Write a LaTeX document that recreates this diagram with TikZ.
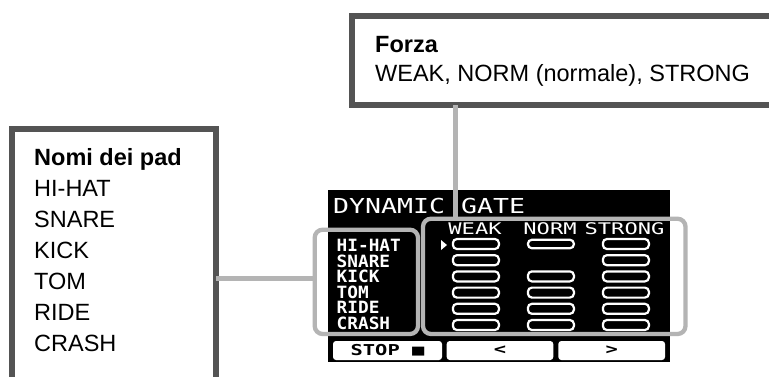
\documentclass[tikz,border=0pt]{standalone}
\usepackage{fontspec}
\setmainfont{Liberation Sans}
\newfontfamily\lcdfont{DejaVu Sans Mono}
\newcommand\lcdt[3]{\scalebox{#2}[1]{\fontsize{#1}{#1}\selectfont\lcdfont\bfseries #3}}
\newcommand\lcdr[3]{\scalebox{#2}[1]{\fontsize{#1}{#1}\selectfont\lcdfont #3}}
\definecolor{boxgray}{HTML}{545454}
\definecolor{linkgray}{HTML}{B4B4B4}
\begin{document}
\begin{tikzpicture}[x=1pt,y=-1pt,
  callout/.style={draw=boxgray, line width=6pt, fill=white, inner sep=0pt, outer sep=0pt, anchor=north west},
  calltext/.style={font=\fontsize{23.5}{28}\selectfont, inner sep=0pt, anchor=base west},
  selbox/.style={draw=linkgray, line width=4.3pt, rounded corners=8pt, inner sep=0pt, outer sep=0pt},
  conn/.style={draw=linkgray, line width=4.5pt},
  bar/.style={draw=white, line width=2.2pt, rounded corners=4pt, minimum width=46pt, minimum height=10pt, inner sep=0pt},
  lcdlabel/.style={text=white, inner sep=0pt},
  btn/.style={fill=white, rounded corners=3pt, inner sep=0pt, minimum height=19pt, text=black}]
\useasboundingbox (0,0) rectangle (769,376);
\clip (0,0) rectangle (769,376);
\fill[white] (0,0) rectangle (769,376);
% LCD screen
\node[fill=black, minimum width=342pt, minimum height=172pt, inner sep=0pt, outer sep=0pt, anchor=north west] (lcd) at (328,190) {};
\node[lcdlabel, anchor=base west] (title) at (333,213) {\lcdr{20.6}{1.29}{DYNAMIC GATE}};
\node[lcdlabel] (hweak) at (475,229) {\lcdr{16}{1.38}{WEAK}};
\node[lcdlabel] (hnorm) at (550,229) {\lcdr{16}{1.38}{NORM}};
\node[lcdlabel] (hstrong) at (624.5,229) {\lcdr{16}{1.38}{STRONG}};
\foreach \t [count=\i] in {HI-HAT,SNARE,KICK,TOM,RIDE,CRASH}
  \node[lcdlabel, anchor=base west] (ln\i) at (336.5,{251.7+15.5*(\i-1)}) {\lcdt{16.9}{1.05}{\t}};
\foreach \r in {1,...,6} {
  \node[bar] (w\r) at (475.9,{244+16.2*(\r-1)}) {};
  \node[bar] (s\r) at (625.9,{244+16.2*(\r-1)}) {};
}
\foreach \r in {3,...,6}
  \node[bar] (n\r) at (550.9,{244+16.2*(\r-1)}) {};
\node[bar, minimum height=8.5pt] (n1) at (550.9,244) {};
\fill[white] (441,240) -- (447,245) -- (441,250) -- cycle;
\node[btn, minimum width=109pt] (b1) at (387.5,350.5) {\lcdt{15}{1.36}{STOP ■}};
\node[btn, minimum width=106.6pt] (b2) at (500,350.5) {\lcdt{15}{1.36}{<}};
\node[btn, minimum width=106.7pt] (b3) at (611.7,350.5) {\lcdt{15}{1.36}{>}};
% selection frames
\node[selbox, minimum width=103.3pt, minimum height=104.3pt] (padsel) at (366.35,281.85) {};
\node[selbox, minimum width=262.5pt, minimum height=115.3pt] (valsel) at (554.25,276.35) {};
% callout boxes
\node[callout, minimum width=204pt, minimum height=270pt] (padbox) at (12,129) {};
\node[callout, minimum width=500pt, minimum height=89pt] (forzabox) at (352,16) {};
% connectors
\coordinate (vx) at (455.5,0);
\draw[conn] (vx |- forzabox.south) -- (vx |- valsel.north);
\coordinate (hy) at (0,278.3);
\draw[conn] (padbox.east |- hy) -- (padsel.west |- hy);
% callout texts
\node[calltext] (ftitle) at (375,52.7) {\textbf{Forza}};
\node[calltext] (fvals) at (375,81.7) {WEAK, NORM (normale), STRONG};
\node[calltext] (ptitle) at (34,165) {\textbf{Nomi dei pad}};
\foreach \t [count=\i] in {HI-HAT,SNARE,KICK,TOM,RIDE,CRASH}
  \node[calltext] (pn\i) at (34,{165+31*\i}) {\t};
\end{tikzpicture}
\end{document}
